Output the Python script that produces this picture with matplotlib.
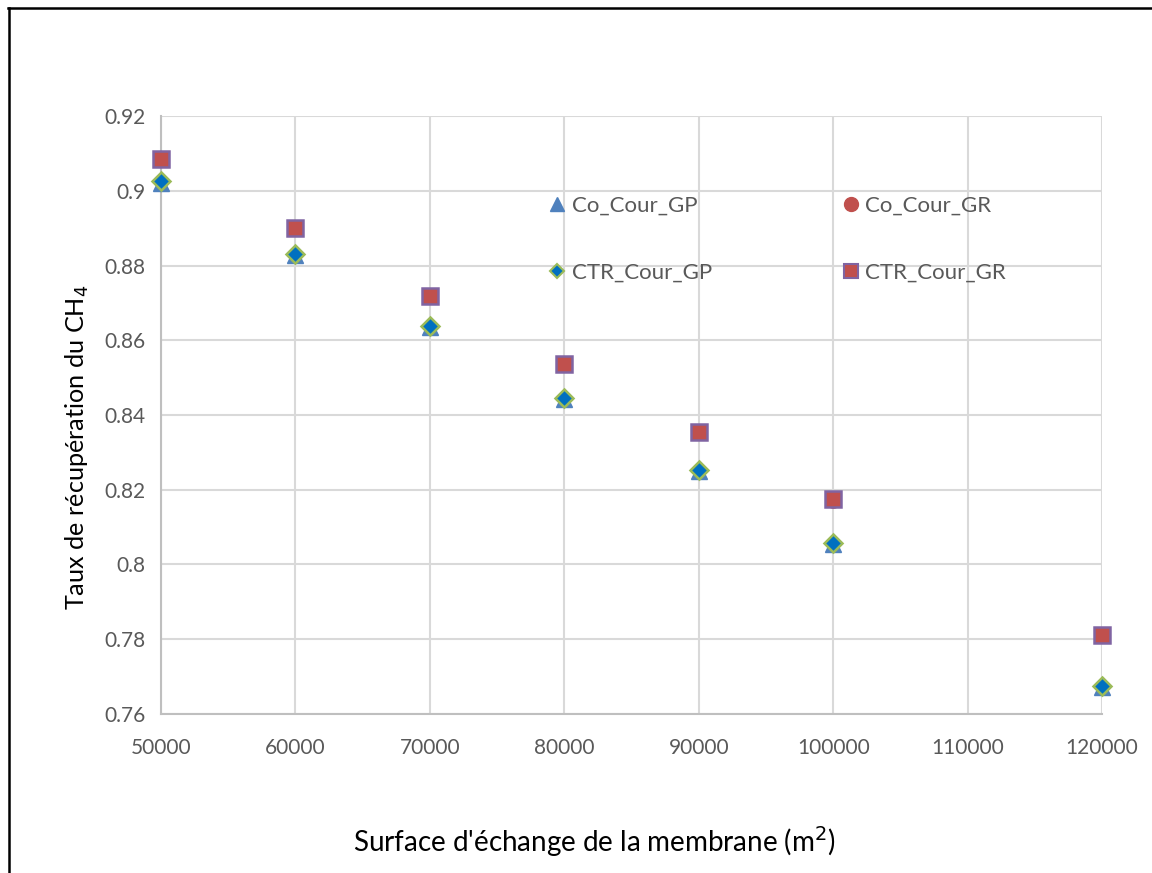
import matplotlib
matplotlib.use("Agg")
import matplotlib.pyplot as plt
from matplotlib.lines import Line2D

plt.rcParams['font.family'] = ['Lato', 'DejaVu Sans']

# Membrane exchange surface (m2)
surface = [50000, 60000, 70000, 80000, 90000, 100000, 120000]

# CH4 recovery rate for each configuration
co_cour_gp = [0.9022, 0.8828, 0.8636, 0.8443, 0.8251, 0.8056, 0.7673]
co_cour_gr = [0.9084, 0.8900, 0.8718, 0.8536, 0.8354, 0.8173, 0.7811]
ctr_cour_gp = [0.9025, 0.8831, 0.8639, 0.8446, 0.8253, 0.8058, 0.7675]
ctr_cour_gr = [0.9085, 0.8901, 0.8719, 0.8537, 0.8355, 0.8174, 0.7812]

x_ticks = [50000, 60000, 70000, 80000, 90000, 100000, 110000, 120000]
y_ticks = [0.76, 0.78, 0.80, 0.82, 0.84, 0.86, 0.88, 0.90, 0.92]
y_tick_labels = ['0.76', '0.78', '0.8', '0.82', '0.84', '0.86', '0.88', '0.9', '0.92']

W, H = 1152, 873
fig = plt.figure(figsize=(W / 100, H / 100), dpi=100)
ax = fig.add_axes([161 / W, 1 - 714 / H, (1102 - 161) / W, (714 - 116) / H])

grid_col = '#d9d9d9'
text_col = '#595959'

ax.plot(surface, co_cour_gp, linestyle='none', marker='^', markersize=11,
        color='#4F81BD', markeredgecolor='#4F81BD', label='Co_Cour_GP',
        zorder=3, clip_on=False)
ax.plot(surface, co_cour_gr, linestyle='none', marker='o', markersize=11,
        color='#C0504D', markeredgecolor='#C0504D', label='Co_Cour_GR',
        zorder=3, clip_on=False)
ax.plot(surface, ctr_cour_gp, linestyle='none', marker='D', markersize=9,
        markerfacecolor='#0070C0', markeredgecolor='#9BBB59', markeredgewidth=1.8,
        label='CTR_Cour_GP', zorder=4, clip_on=False)
ax.plot(surface, ctr_cour_gr, linestyle='none', marker='s', markersize=11,
        markerfacecolor='#C0504D', markeredgecolor='#8064A2', markeredgewidth=1.8,
        label='CTR_Cour_GR', zorder=4, clip_on=False)

ax.set_xlim(50000, 120000)
ax.set_ylim(0.76, 0.92)
ax.set_xticks(x_ticks)
ax.set_xticklabels([str(v) for v in x_ticks])
ax.set_yticks(y_ticks)
ax.set_yticklabels(y_tick_labels)
ax.grid(True, color=grid_col, linewidth=1.5, zorder=0)
ax.set_axisbelow(True)
for side in ['top', 'right']:
    ax.spines[side].set_visible(False)
for side in ['left', 'bottom']:
    ax.spines[side].set_color('#bfbfbf')
    ax.spines[side].set_linewidth(1.5)
ax.tick_params(axis='both', length=0, labelsize=15, labelcolor=text_col)
ax.tick_params(axis='x', pad=17)
ax.tick_params(axis='y', pad=11)

# Axis titles
fig.text(594 / W, 1 - 842 / H, "Surface d'échange de la membrane (m$^2$)",
         fontsize=20, color='black', ha='center', va='center')
fig.text(77 / W, 1 - 447 / H, "Taux de récupération du CH$_4$",
         fontsize=18.2, color='black', ha='center', va='center', rotation=90)

handles = [
    Line2D([], [], linestyle='none', marker='^', markersize=10, color='#4F81BD'),
    Line2D([], [], linestyle='none', marker='D', markersize=7.5, markerfacecolor='#0070C0',
           markeredgecolor='#9BBB59', markeredgewidth=1.5),
    Line2D([], [], linestyle='none', marker='o', markersize=10, color='#C0504D'),
    Line2D([], [], linestyle='none', marker='s', markersize=9.5, markerfacecolor='#C0504D',
           markeredgecolor='#8064A2', markeredgewidth=1.5),
]
labels = ['Co_Cour_GP', 'CTR_Cour_GP', 'Co_Cour_GR', 'CTR_Cour_GR']
leg = fig.legend(handles, labels, ncol=2, frameon=False, loc='upper left',
                 bbox_to_anchor=(543 / W, 1 - 196 / H), fontsize=16,
                 labelspacing=2.12, columnspacing=5.6, handletextpad=0.0,
                 handlelength=1.3, borderpad=0, borderaxespad=0)
for t in leg.get_texts():
    t.set_color(text_col)

# Outer frame lines
fig.add_artist(Line2D([8 / W, 1], [1 - 8 / H, 1 - 8 / H], color='black', linewidth=1.8,
                      transform=fig.transFigure))
fig.add_artist(Line2D([9 / W, 9 / W], [0, 1 - 8 / H], color='black', linewidth=1.8,
                      transform=fig.transFigure))

fig.savefig('out.png', dpi=100)
